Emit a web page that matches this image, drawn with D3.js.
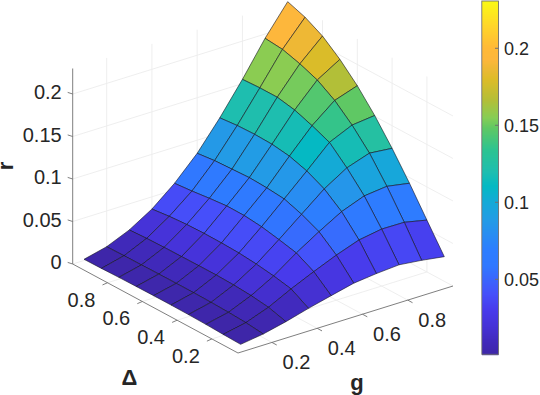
<!DOCTYPE html>
<html><head><meta charset="utf-8">
<style>html,body{margin:0;padding:0;background:#fff}svg{display:block}text{font-family:"Liberation Sans",Arial,sans-serif;fill:#262626}</style>
<script src="https://cdn.jsdelivr.net/npm/d3@7"></script></head><body>
<script>
const gValues=[0.1,0.2,0.3,0.4,0.5,0.6,0.7,0.8,0.9,1.0];
const deltaValues=[0.1,0.2,0.3,0.4,0.5,0.6,0.7,0.8,0.9,1.0];
// r at each (g row, delta column)
const r_g01=[0.0005,0.0012,0.002,0.0025,0.0027,0.0027,0.0025,0.0022,0.0017,0.0014];
const r_g02=[0.0044,0.0067,0.0079,0.0086,0.0089,0.0089,0.0088,0.0085,0.0083,0.0079];
const r_g03=[0.0106,0.0165,0.0192,0.0207,0.0214,0.0213,0.0211,0.0209,0.0204,0.0193];
const r_g04=[0.018,0.0298,0.034,0.037,0.039,0.0398,0.04,0.0395,0.038,0.0356];
const r_g05=[0.0246,0.0418,0.0528,0.0575,0.0616,0.0638,0.064,0.062,0.0595,0.0576];
const r_g06=[0.031,0.053,0.0695,0.079,0.086,0.088,0.089,0.088,0.087,0.0846];
const r_g07=[0.034,0.0625,0.0848,0.1005,0.1106,0.117,0.12,0.1207,0.12,0.118];
const r_g08=[0.036,0.067,0.095,0.117,0.136,0.1446,0.152,0.156,0.156,0.155];
const r_g09=[0.033,0.0667,0.098,0.126,0.148,0.166,0.179,0.187,0.193,0.195];
const r_g10=[0.029,0.061,0.0933,0.1234,0.151,0.175,0.195,0.2114,0.2225,0.2298];
const rRows=[r_g01,r_g02,r_g03,r_g04,r_g05,r_g06,r_g07,r_g08,r_g09,r_g10];
const xyTicks=[0.2,0.4,0.6,0.8];
const zTicks=[0,0.05,0.1,0.15,0.2];
const zTickLabels=["0","0.05","0.1","0.15","0.2"];
const cbTicks=[0.05,0.1,0.15,0.2];
const cbTickLabels=["0.05","0.1","0.15","0.2"];
const parulaStops=["rgb(62,38,168)","rgb(65,42,190)","rgb(70,50,215)","rgb(72,58,235)","rgb(70,80,250)","rgb(48,120,255)","rgb(45,125,255)","rgb(35,155,230)","rgb(20,170,215)","rgb(5,185,195)","rgb(30,190,175)","rgb(45,195,145)","rgb(95,200,100)","rgb(135,205,85)","rgb(180,190,55)","rgb(222,188,40)","rgb(232,185,50)","rgb(253,183,60)","rgb(255,185,55)","rgb(255,215,40)","rgb(250,250,20)"];
const parulaPos=[0,0.04,0.08,0.125,0.17,0.25,0.295,0.378,0.431,0.476,0.517,0.578,0.64,0.67,0.72,0.78,0.80,0.835,0.867,0.932,1];
const cMin=0.0013,cMax=0.2307;
const axisLims=[0.05,1],zMax=0.23;

const W=540,H=395;
const svg=d3.select("body").append("svg").attr("width",W).attr("height",H).attr("viewBox",`0 0 ${W} ${H}`);
// axonometric projection as three linear scales
const gx=d3.scaleLinear().domain(axisLims).range([0,215]);
const gy=d3.scaleLinear().domain(axisLims).range([0,-67]);
const dx=d3.scaleLinear().domain(axisLims).range([0,-165.3]);
const dy=d3.scaleLinear().domain(axisLims).range([0,-89]);
const zy=d3.scaleLinear().domain([0,1]).range([0,-850]);
const O=[238,353];
const P=(g,d,z)=>[O[0]+gx(g)+dx(d),O[1]+gy(g)+dy(d)+zy(z)];
const color=d3.scaleLinear().domain(parulaPos.map(t=>cMin+t*(cMax-cMin))).range(parulaStops).interpolate(d3.interpolateRgb).clamp(true);
const line=d3.line();
const lo=axisLims[0],hi=axisLims[1];

// grid
const grid=svg.append("g").attr("fill","none").attr("stroke","#ececec").attr("stroke-width",0.9);
xyTicks.forEach(t=>{
  grid.append("path").attr("d",line([P(t,hi,0),P(t,hi,zMax)]));
  grid.append("path").attr("d",line([P(hi,t,0),P(hi,t,zMax)]));
  grid.append("path").attr("d",line([P(t,lo,0),P(t,hi,0)]));
  grid.append("path").attr("d",line([P(lo,t,0),P(hi,t,0)]));
});
zTicks.forEach(t=>{
  grid.append("path").attr("d",line([P(lo,hi,t),P(hi,hi,t),P(hi,lo,t)]));
});

// axes
const ax=svg.append("g").attr("fill","none").attr("stroke","#707070").attr("stroke-width",0.9);
ax.append("path").attr("d",line([P(lo,hi,zMax),P(lo,hi,0),P(lo,lo,0),P(hi,lo,0)]));
xyTicks.forEach(t=>{
  const a=P(t,lo,0);ax.append("path").attr("d",line([a,[a[0]+4.8,a[1]+2.6]]));
  const b=P(lo,t,0);ax.append("path").attr("d",line([b,[b[0]-5,b[1]+2.2]]));
});
zTicks.forEach(t=>{
  const a=P(lo,hi,t);ax.append("path").attr("d",line([a,[a[0]-5,a[1]-1.6]]));
});

// surface, back to front
const surf=svg.append("g").attr("stroke","#141420").attr("stroke-width",0.6).attr("stroke-linejoin","round");
for(let i=gValues.length-2;i>=0;i--){
  for(let j=deltaValues.length-2;j>=0;j--){
    const pts=[P(gValues[i],deltaValues[j],rRows[i][j]),P(gValues[i+1],deltaValues[j],rRows[i+1][j]),
      P(gValues[i+1],deltaValues[j+1],rRows[i+1][j+1]),P(gValues[i],deltaValues[j+1],rRows[i][j+1])];
    surf.append("path").attr("d",line(pts)+"Z").attr("fill",color(rRows[i][j]));
  }
}

// tick labels
const tl=svg.append("g").attr("font-size",20);
xyTicks.forEach(t=>{
  const a=P(t,lo,0);
  tl.append("text").attr("x",a[0]+24.5).attr("y",a[1]+26.5).attr("text-anchor","middle").text(t);
  const b=P(lo,t,0);
  tl.append("text").attr("x",b[0]-26).attr("y",b[1]+24).attr("text-anchor","middle").text(t);
});
zTicks.forEach((t,k)=>{
  const a=P(lo,hi,t);
  tl.append("text").attr("x",a[0]-11).attr("y",a[1]+5).attr("text-anchor","end").text(zTickLabels[k]);
});
// axis titles
const tt=svg.append("g").attr("font-size",22).attr("font-weight","bold").attr("text-anchor","middle");
tt.append("text").attr("x",129.5).attr("y",385).text("Δ");
tt.append("text").attr("x",357).attr("y",390).text("g");
tt.append("text").attr("transform","translate(13,166) rotate(-90)").text("r");

// colorbar
const cb=d3.scaleLinear().domain([cMin,cMax]).range([354.3,1]);
const cbG=svg.append("g");
d3.range(1,355).forEach(y=>{
  cbG.append("rect").attr("x",482).attr("y",y).attr("width",16.5).attr("height",1.2).attr("fill",color(cb.invert(y+0.5)));
});
cbG.append("rect").attr("x",481.8).attr("y",1).attr("width",16.7).attr("height",353.3).attr("fill","none").attr("stroke","#707070").attr("stroke-width",0.9);
cbTicks.forEach((t,k)=>{
  cbG.append("path").attr("d",line([[495,cb(t)],[498.5,cb(t)]])).attr("stroke","#707070").attr("fill","none");
  cbG.append("text").attr("x",504).attr("y",cb(t)+6.3).attr("font-size",18).text(cbTickLabels[k]);
});
</script></body></html>
